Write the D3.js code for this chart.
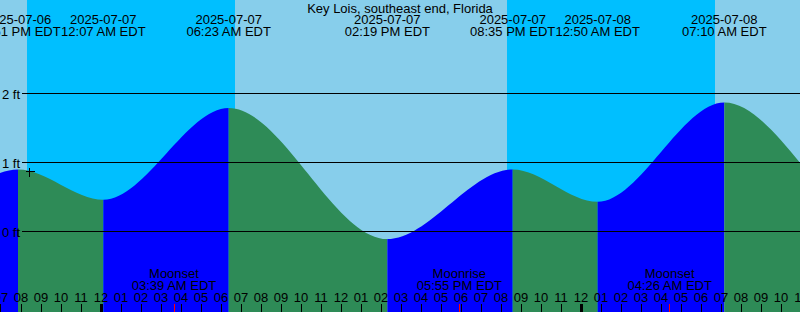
<!DOCTYPE html>
<html>
<head>
<meta charset="utf-8">
<script src="https://cdn.jsdelivr.net/npm/d3@7"></script>
<style>
  html, body { margin: 0; padding: 0; background: #fff; }
  svg { display: block; }
  text { font-family: "Liberation Sans", Arial, sans-serif; font-size: 13px; fill: #000; }
</style>
</head>
<body>
<div id="chart"></div>
<script>
// Tide graph: Key Lois, southeast end, Florida
const title = 'Key Lois, southeast end, Florida';

// Tide extremes (local EDT) and heights in feet; first and last are off-screen
const tideTimes = ['2025-07-06 05:40', '2025-07-06 13:35', '2025-07-06 19:51', '2025-07-07 00:07',
  '2025-07-07 06:23', '2025-07-07 14:19', '2025-07-07 20:35', '2025-07-08 00:50',
  '2025-07-08 07:10', '2025-07-08 15:05', '2025-07-08 21:20'];
const tideFeet = [1.75, -0.05, 0.90, 0.46, 1.79, -0.11, 0.90, 0.43, 1.87, 0.00, 0.92];

// Night bands (sunset -> sunrise)
const sunsets = ['2025-07-06 20:18', '2025-07-07 20:19'];
const sunrises = ['2025-07-07 06:42', '2025-07-08 06:42'];

// Moon events
const moonTimes = ['2025-07-07 03:39', '2025-07-07 17:55', '2025-07-08 04:26'];
const moonKinds = ['Moonset', 'Moonrise', 'Moonset'];

// Height grid
const feetTicks = [0, 1, 2];

// "now" mark on the curve
const markTime = '2025-07-06 20:25';
const markFeet = 0.87;

const width = 800, height = 312;
const parse = d3.timeParse('%Y-%m-%d %H:%M');
const fmtDate = d3.timeFormat('%Y-%m-%d');
const fmtTime = d3.timeFormat('%I:%M %p EDT');
const fmtHour = d3.timeFormat('%I');

const colors = {
  day: '#87CEEB',
  night: '#00BFFF',
  rising: '#0000FF',
  falling: '#2E8B57'
};

const tides = tideTimes.map((t, i) => ({ t: parse(t), ft: tideFeet[i] }));

const x = d3.scaleTime()
  .domain([parse('2025-07-07 00:00'), parse('2025-07-08 00:00')])
  .range([101, 581]);
const y = d3.scaleLinear().domain([0, 2]).range([231.5, 93.5]);

const svg = d3.select('#chart').append('svg')
  .attr('width', width)
  .attr('height', height);

// Sky: day background, night bands
svg.append('rect')
  .attr('width', width).attr('height', height)
  .attr('fill', colors.day);

svg.append('g')
  .selectAll('rect')
  .data(sunsets.map((s, i) => [parse(s), parse(sunrises[i])]))
  .join('rect')
  .attr('x', d => x(d[0]))
  .attr('width', d => x(d[1]) - x(d[0]))
  .attr('y', 0)
  .attr('height', height)
  .attr('fill', colors.night)
  .attr('shape-rendering', 'crispEdges');

// Water: one area, clipped per rising/falling segment
const area = d3.area()
  .x(d => x(d.t))
  .y0(height)
  .y1(d => y(d.ft))
  .curve(d3.curveMonotoneX);

const defs = svg.append('defs');
const segs = d3.pairs(tides).map(([a, b], i) => ({ a, b, i, rising: b.ft > a.ft }));

defs.selectAll('clipPath')
  .data(segs)
  .join('clipPath')
  .attr('id', d => 'seg' + d.i)
  .append('rect')
  .attr('x', d => x(d.a.t))
  .attr('width', d => x(d.b.t) - x(d.a.t))
  .attr('y', 0)
  .attr('height', height);

svg.append('g')
  .selectAll('path')
  .data(segs)
  .join('path')
  .attr('d', area(tides))
  .attr('clip-path', d => `url(#seg${d.i})`)
  .attr('fill', d => d.rising ? colors.rising : colors.falling);

// Height lines and labels
svg.append('g')
  .selectAll('line')
  .data(feetTicks)
  .join('line')
  .attr('x1', 22).attr('x2', width)
  .attr('y1', d => y(d)).attr('y2', d => y(d))
  .attr('stroke', '#000')
  .attr('shape-rendering', 'crispEdges');

svg.append('g')
  .selectAll('text')
  .data(feetTicks)
  .join('text')
  .attr('x', 20)
  .attr('y', d => y(d) + 5)
  .attr('text-anchor', 'end')
  .text(d => `${d} ft`);

// Mark
svg.append('path')
  .attr('transform', `translate(${Math.round(x(parse(markTime))) + 0.5},${Math.round(y(markFeet)) + 0.5})`)
  .attr('d', 'M-4,0H5M0,-4V5')
  .attr('stroke', '#000')
  .attr('fill', 'none')
  .attr('shape-rendering', 'crispEdges');

// Title
svg.append('text')
  .attr('x', width / 2).attr('y', 13)
  .attr('text-anchor', 'middle')
  .text(title);

// Tide event labels, pushed right so they don't overlap
const visible = tides.filter(d => x(d.t) > 0 && x(d.t) < width);
const evLabel = svg.append('g')
  .selectAll('g')
  .data(visible)
  .join('g');

evLabel.append('text')
  .attr('y', 24)
  .attr('text-anchor', 'middle')
  .text(d => fmtDate(d.t));
evLabel.append('text')
  .attr('y', 36)
  .attr('text-anchor', 'middle')
  .text(d => fmtTime(d.t));

let prevRight = -Infinity;
evLabel.each(function(d) {
  const w = d3.max(d3.select(this).selectAll('text').nodes(), n => n.getComputedTextLength());
  const left = Math.max(x(d.t) - w / 2, prevRight);
  prevRight = left + w;
  d3.select(this).attr('transform', `translate(${left + w / 2},0)`);
});

// Hour ticks
const hours = d3.timeHour.range(x.invert(-10), x.invert(width + 10));

svg.append('g')
  .selectAll('line')
  .data(hours)
  .join('line')
  .attr('x1', d => x(d)).attr('x2', d => x(d))
  .attr('y1', 304).attr('y2', height)
  .attr('stroke', '#000')
  .attr('stroke-width', d => d.getHours() === 0 ? 3 : 1)
  .attr('shape-rendering', 'crispEdges');

svg.append('g')
  .selectAll('text')
  .data(hours)
  .join('text')
  .attr('x', d => x(d))
  .attr('y', 302)
  .attr('text-anchor', 'middle')
  .text(d => fmtHour(d));

// Moon events
const moons = moonTimes.map((t, i) => ({ t: parse(t), kind: moonKinds[i] }));

svg.append('g')
  .selectAll('line')
  .data(moons)
  .join('line')
  .attr('x1', d => x(d.t)).attr('x2', d => x(d.t))
  .attr('y1', 304).attr('y2', height)
  .attr('stroke', '#FF0000')
  .attr('shape-rendering', 'crispEdges');

const moonLabel = svg.append('g')
  .selectAll('g')
  .data(moons)
  .join('g')
  .attr('transform', d => `translate(${x(d.t)},0)`);

moonLabel.append('text')
  .attr('y', 278)
  .attr('text-anchor', 'middle')
  .text(d => d.kind);
moonLabel.append('text')
  .attr('y', 290)
  .attr('text-anchor', 'middle')
  .text(d => fmtTime(d.t));
</script>
</body>
</html>
